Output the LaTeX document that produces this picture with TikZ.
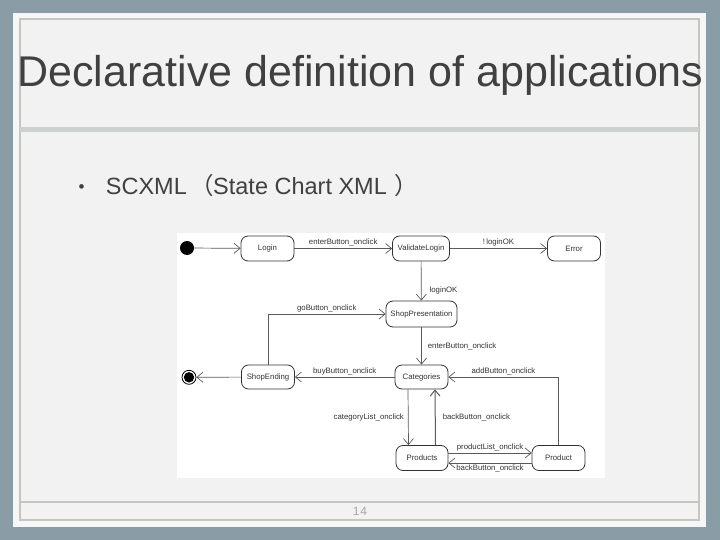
\documentclass[tikz,border=0pt]{standalone}
\usepackage{fontspec}
\setmainfont{Liberation Sans}
\newfontfamily\cjkfont{Noto Sans CJK SC}
\usetikzlibrary{arrows.meta}
\definecolor{bgblue}{HTML}{8A9DA6}
\definecolor{panel}{HTML}{F2F2F2}
\definecolor{panelout}{HTML}{F6F6F6}
\definecolor{frameline}{HTML}{C6C6C0}
\definecolor{sepband}{HTML}{CDD0CF}
\definecolor{titletext}{HTML}{404040}
\definecolor{edgecol}{HTML}{5A5A5A}
\definecolor{nodecol}{HTML}{333333}
\tikzset{
  statebox/.style={draw=nodecol, line width=0.8pt, rounded corners=7pt, fill=white,
    minimum height=25pt, inner sep=0pt, font=\fontsize{7.8pt}{9pt}\selectfont, text=nodecol},
  trans/.style={draw=edgecol, line width=0.7pt, -{Straight Barb[length=6pt,width=10pt]}},
  lbl/.style={font=\fontsize{7.8pt}{9pt}\selectfont, text=nodecol, inner sep=1pt},
  subtext/.style={anchor=base west, text=titletext, inner sep=0pt, font=\fontsize{23.5pt}{28pt}\selectfont},
}
\begin{document}
\begin{tikzpicture}[x=1pt,y=-1pt]
\useasboundingbox (0,0) rectangle (720,540);
\fill[bgblue] (0,0) rectangle (720,540);
\fill[panelout] (13,13) rectangle (706,527);
\draw[frameline, fill=panel, line width=1.5pt] (20,19) rectangle (699,520);
\fill[sepband] (20,127) rectangle (699,132);
\draw[frameline, line width=1.5pt] (20,502) -- (699,502);
% title
\node[anchor=base, text=titletext, inner sep=0pt, font=\fontsize{43pt}{48pt}\selectfont] (title) at (360.5,87) {Declarative definition of applications};
% bullet
\node[anchor=base, text=titletext, inner sep=0pt, font=\fontsize{17pt}{20pt}\selectfont] (bul) at (81.7,193) {•};
\node[subtext] (sub1) at (105.7,195) {SCXML};
\node[subtext] (par1) at (190,195) {\cjkfont （};
\node[subtext] (sub2) at (213,195) {State Chart XML};
\node[subtext] (par2) at (394,195) {\cjkfont ）};
% footer
\node[anchor=center, text=black!35, font=\fontsize{12pt}{14pt}\selectfont] (pagenum) at (360,511.5) {1\kern1pt4};
% diagram area
\fill[white] (177,233) rectangle (605,478);
% states
\node[circle, fill=black, minimum size=14pt, inner sep=0pt] (init) at (187,248) {};
\node[statebox, minimum width=53pt] (login) at (267.5,248.5) {Login};
\node[statebox, minimum width=57pt] (validate) at (421,248.5) {ValidateLogin};
\node[statebox, minimum width=53pt] (error) at (574,248.5) {Error};
\node[statebox, minimum width=71pt, minimum height=26pt] (shoppres) at (421.5,314) {ShopPresentation};
\node[statebox, minimum width=53pt, minimum height=24pt] (shopend) at (268,377) {ShopEnding};
\node[statebox, minimum width=53pt, minimum height=24pt] (cats) at (421.5,377) {Categories};
\node[statebox, minimum width=52pt] (products) at (422,458) {Products};
\node[statebox, minimum width=53pt] (product) at (558.5,458) {Product};
\node[circle, draw=black, line width=0.8pt, minimum size=14pt, inner sep=0pt,
  path picture={\fill[black] (path picture bounding box.center) circle (5.2pt);}] (final) at (189,377.3) {};
% transitions
\draw[trans] (init) -- (login);
\draw[trans] (login) -- node[lbl, above=1pt] {enterButton\_onclick} (validate);
\draw[trans] (validate) -- node[lbl, above=1pt] {!\,loginOK} (error);
\draw[trans] (validate) -- node[lbl, pos=0.75, right=7pt] {loginOK} (shoppres);
\draw[trans] (shopend.north) |- node[lbl, pos=0.75, above=1pt] {goButton\_onclick} (shoppres.west);
\draw[trans] (shoppres) -- node[lbl, right=5pt] {enterButton\_onclick} (cats);
\draw[trans] (cats) -- node[lbl, above=1pt] {buyButton\_onclick} (shopend);
\draw[trans] (shopend) -- (final);
\draw[trans] (product.north) |- node[lbl, pos=0.75, above=1pt] {addButton\_onclick} (cats.east);
\draw[trans] ([xshift=-13.5pt]cats.south) -- node[lbl, left=3pt] {categoryList\_onclick} ([xshift=-13.5pt]products.north);
\draw[trans, line width=1pt] ([xshift=13.5pt]products.north) -- node[lbl, right=6pt] {backButton\_onclick} ([xshift=13.5pt]cats.south);
\draw[trans] ([yshift=5pt]products.east) -- node[lbl, above=0.5pt] {productList\_onclick} ([yshift=5pt]product.west);
\draw[trans] ([yshift=-5pt]product.west) -- node[lbl, below=0.5pt] {backButton\_onclick} ([yshift=-5pt]products.east);
\end{tikzpicture}
\end{document}
